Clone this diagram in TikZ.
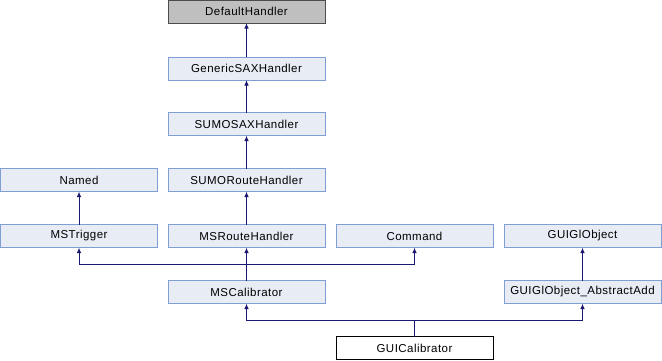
\documentclass[tikz,border=0pt]{standalone}
\usepackage{fontspec}
\setmainfont{Liberation Sans}
\usetikzlibrary{arrows.meta}
\definecolor{boxfill}{HTML}{E8ECF5}
\definecolor{boxline}{HTML}{7F9FD2}
\definecolor{edgecol}{HTML}{191970}
\begin{document}
\begin{tikzpicture}[x=1pt,y=-1pt,
  cls/.style={draw=boxline,fill=boxfill,line width=1pt,minimum width=157pt,minimum height=23pt,
    inner sep=0pt,outer sep=0pt,font=\fontsize{11.5}{13}\selectfont\addfontfeature{LetterSpace=4}},
  rootcls/.style={cls,draw=black!70,fill=black!25},
  leafcls/.style={cls,draw=black,fill=white},
  inh/.style={draw=edgecol,line width=1pt,-{Latex[length=5.5pt,width=4.5pt]}},
  link/.style={draw=edgecol,line width=1pt}]
\useasboundingbox (0,0) rectangle (662,360);
% classes
\node[rootcls] (dh)   at (246.5,11.5)  {DefaultHandler};
\node[cls]     (gsax) at (246.5,68.5)  {GenericSAXHandler};
\node[cls]     (ssax) at (246.5,124)   {SUMOSAXHandler};
\node[cls]     (srh)  at (246.5,180)   {SUMORouteHandler};
\node[cls]     (nm)   at (79,180)      {Named};
\node[cls]     (mst)  at (79,236)      {MSTrigger};
\node[cls]     (msrh) at (246.5,236)   {MSRouteHandler};
\node[cls]     (cmd)  at (414.5,236)   {Command};
\node[cls]     (glo)  at (582.5,236)   {GUIGlObject};
\node[cls]     (msc)  at (246.5,292)   {MSCalibrator};
\node[cls]     (gla)  at (582.5,292)   {GUIGlObject\_AbstractAdd};
\node[leafcls] (guic) at (414.5,348)   {GUICalibrator};
% junction points of the shared connectors
\coordinate (j1) at (246.5,264);
\coordinate (j2) at (414.5,320);
% inheritance chain
\draw[inh] (gsax) -- (dh);
\draw[inh] (ssax) -- (gsax);
\draw[inh] (srh) -- (ssax);
\draw[inh] (msrh) -- (srh);
\draw[inh] (mst) -- (nm);
\draw[inh] (gla) -- (glo);
% MSCalibrator bases
\draw[link] (msc.north) -- (j1);
\draw[inh] (j1) -| (mst.south);
\draw[inh] (j1) -- (msrh.south);
\draw[inh] (j1) -| (cmd.south);
% GUICalibrator bases
\draw[link] (guic.north) -- (j2);
\draw[inh] (j2) -| (msc.south);
\draw[inh] (j2) -| (gla.south);
\end{tikzpicture}
\end{document}
